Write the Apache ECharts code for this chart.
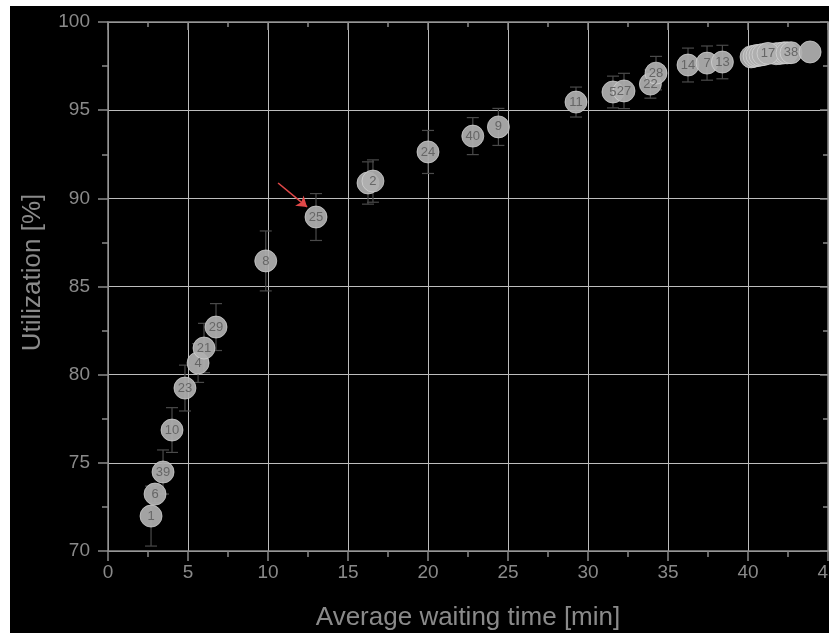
<!DOCTYPE html>
<html>
<head>
<meta charset="utf-8">
<script src="https://cdn.jsdelivr.net/npm/echarts@6/dist/echarts.min.js"></script>
<style>
html,body{margin:0;padding:0;background:#fff;width:829px;height:633px;overflow:hidden;}
#chart{position:absolute;left:10px;top:6px;width:819px;height:627px;background:#000;}
</style>
</head>
<body>
<div id="chart"></div>
<script>
// Point ids (labels drawn inside markers)
const pointLabels = ['1','6','39','10','23','4','21','29','8','25','3','2','24','40','9','11','5','27','22','28','14','7','13',
  '12','15','16','18','19','20','26','30','17','37','38',''];
// Labels that are hidden under other markers in the reference
const hiddenLabels = ['3','12','15','16','18','19','20','26','30','37'];
// Average waiting time [min]
const waitTimes = [2.69,2.94,3.44,4.0,4.81,5.63,6.0,6.75,9.86,13.0,16.25,16.56,20.0,22.8,24.4,29.25,31.56,32.25,33.9,34.25,36.25,37.44,38.4,
  40.19,40.38,40.56,40.75,40.94,41.75,42.0,42.25,41.25,42.44,42.69,43.88];
// Utilization [%]
const utilization = [71.98,73.23,74.48,76.86,79.24,80.66,81.51,82.70,86.45,88.94,90.87,90.98,92.63,93.53,94.05,95.46,96.03,96.09,96.48,97.10,97.56,97.67,97.73,
  98.02,98.06,98.10,98.12,98.15,98.2,98.22,98.25,98.22,98.25,98.26,98.3];
// Error (+/-) in %
const utilErr = [1.7,0.5,1.25,1.27,1.3,1.1,1.4,1.33,1.7,1.33,1.2,1.2,1.22,1.05,1.05,0.85,0.9,1.0,0.8,0.95,0.96,0.97,0.95,
  0.55,0.55,0.55,0.55,0.55,0.55,0.55,0.55,0.55,0.55,0.55,0.0];
// x-axis tick labels / y-axis ticks
const xTicks = [0,5,10,15,20,25,30,35,40,45];
const yTicks = [70,75,80,85,90,95,100];
// Annotation arrow (data coordinates)
const arrowStart = [10.63, 90.87];
const arrowEnd = [12.44, 89.51];

const axisColor = '#8a8a8a';
const gridColor = '#bdbdbd';
const fontFamily = '"Liberation Sans", Arial, sans-serif';

const scatterData = waitTimes.map((x, i) => ({
  value: [x, utilization[i], pointLabels[i]],
  label: {show: hiddenLabels.indexOf(pointLabels[i]) < 0}
}));
const errData = waitTimes.map((x, i) => [x, utilization[i], utilErr[i]]);

const chart = echarts.init(document.getElementById('chart'));
const option = {
  backgroundColor: '#000',
  animation: false,
  grid: {left: 98, top: 16, width: 720, height: 529, containLabel: false, outerBoundsMode: 'none'},
  xAxis: [{
    type: 'value', min: xTicks[0], max: xTicks[xTicks.length-1], interval: xTicks[1]-xTicks[0], position: 'bottom',
    name: 'Average waiting time [min]', nameLocation: 'middle', nameGap: 54,
    nameTextStyle: {color: axisColor, fontSize: 26, fontFamily: fontFamily},
    axisLine: {show: true, onZero: false, lineStyle: {color: axisColor, width: 1.5}},
    axisTick: {show: true, inside: false, length: 10, lineStyle: {color: axisColor, width: 1.5}},
    minorTick: {show: true, splitNumber: 2, length: 6, lineStyle: {color: axisColor, width: 1.5}},
    splitLine: {show: true, lineStyle: {color: gridColor, width: 1}},
    axisLabel: {color: axisColor, fontSize: 19, margin: 12, fontFamily: fontFamily, showMaxLabel: true, showMinLabel: true}
  }, {
    type: 'value', min: xTicks[0], max: xTicks[xTicks.length-1], interval: xTicks[1]-xTicks[0], position: 'top',
    axisLine: {show: true, onZero: false, lineStyle: {color: axisColor, width: 1.5}},
    axisTick: {show: true, inside: true, length: 8, lineStyle: {color: axisColor, width: 1.5}},
    minorTick: {show: true, splitNumber: 2, length: 5, lineStyle: {color: axisColor, width: 1.5}},
    splitLine: {show: false}, axisLabel: {show: false}
  }],
  yAxis: [{
    type: 'value', min: yTicks[0], max: yTicks[yTicks.length-1], interval: yTicks[1]-yTicks[0], position: 'left',
    name: 'Utilization [%]', nameLocation: 'middle', nameGap: 62, nameRotate: 90,
    nameTextStyle: {color: axisColor, fontSize: 26, fontFamily: fontFamily, padding: [0,0,0,28]},
    axisLine: {show: true, onZero: false, lineStyle: {color: axisColor, width: 1.5}},
    axisTick: {show: true, inside: false, length: 10, lineStyle: {color: axisColor, width: 1.5}},
    minorTick: {show: true, splitNumber: 2, length: 6, lineStyle: {color: axisColor, width: 1.5}},
    splitLine: {show: true, lineStyle: {color: gridColor, width: 1}},
    axisLabel: {color: axisColor, fontSize: 19, margin: 18, fontFamily: fontFamily}
  }, {
    type: 'value', min: yTicks[0], max: yTicks[yTicks.length-1], interval: yTicks[1]-yTicks[0], position: 'right',
    axisLine: {show: true, onZero: false, lineStyle: {color: axisColor, width: 1.5}},
    axisTick: {show: true, inside: true, length: 8, lineStyle: {color: axisColor, width: 1.5}},
    minorTick: {show: true, splitNumber: 2, length: 5, lineStyle: {color: axisColor, width: 1.5}},
    splitLine: {show: false}, axisLabel: {show: false}
  }],
  series: [{
    type: 'custom',
    name: 'err',
    xAxisIndex: 0, yAxisIndex: 0,
    z: 2,
    data: errData,
    renderItem: function (params, api) {
      const x = api.value(0), y = api.value(1), e = api.value(2);
      if (!e) return null;
      const top = api.coord([x, y + e]);
      const bot = api.coord([x, y - e]);
      const hw = 6;
      const st = {stroke: '#4a4a4a', lineWidth: 1.2};
      return {type: 'group', children: [
        {type: 'line', shape: {x1: top[0], y1: top[1], x2: bot[0], y2: bot[1]}, style: st},
        {type: 'line', shape: {x1: top[0]-hw, y1: top[1], x2: top[0]+hw, y2: top[1]}, style: st},
        {type: 'line', shape: {x1: bot[0]-hw, y1: bot[1], x2: bot[0]+hw, y2: bot[1]}, style: st}
      ]};
    }
  }, {
    type: 'scatter',
    name: 'pts',
    xAxisIndex: 0, yAxisIndex: 0,
    z: 3,
    symbol: 'circle',
    symbolSize: 22,
    data: scatterData,
    itemStyle: {color: 'rgba(175,175,175,0.93)', borderColor: 'rgba(215,215,215,0.7)', borderWidth: 1, opacity: 1},
    label: {show: true, position: 'inside', color: '#666666', fontSize: 13, fontFamily: fontFamily,
      textBorderWidth: 0, formatter: p => p.value[2]},
    markLine: {
      silent: true,
      symbol: ['none', 'arrow'],
      symbolSize: 10,
      label: {show: false},
      lineStyle: {color: '#e04848', width: 1.6, type: 'solid'},
      data: [[{coord: arrowStart}, {coord: arrowEnd}]]
    }
  }]
};
chart.setOption(option);
</script>
</body>
</html>
